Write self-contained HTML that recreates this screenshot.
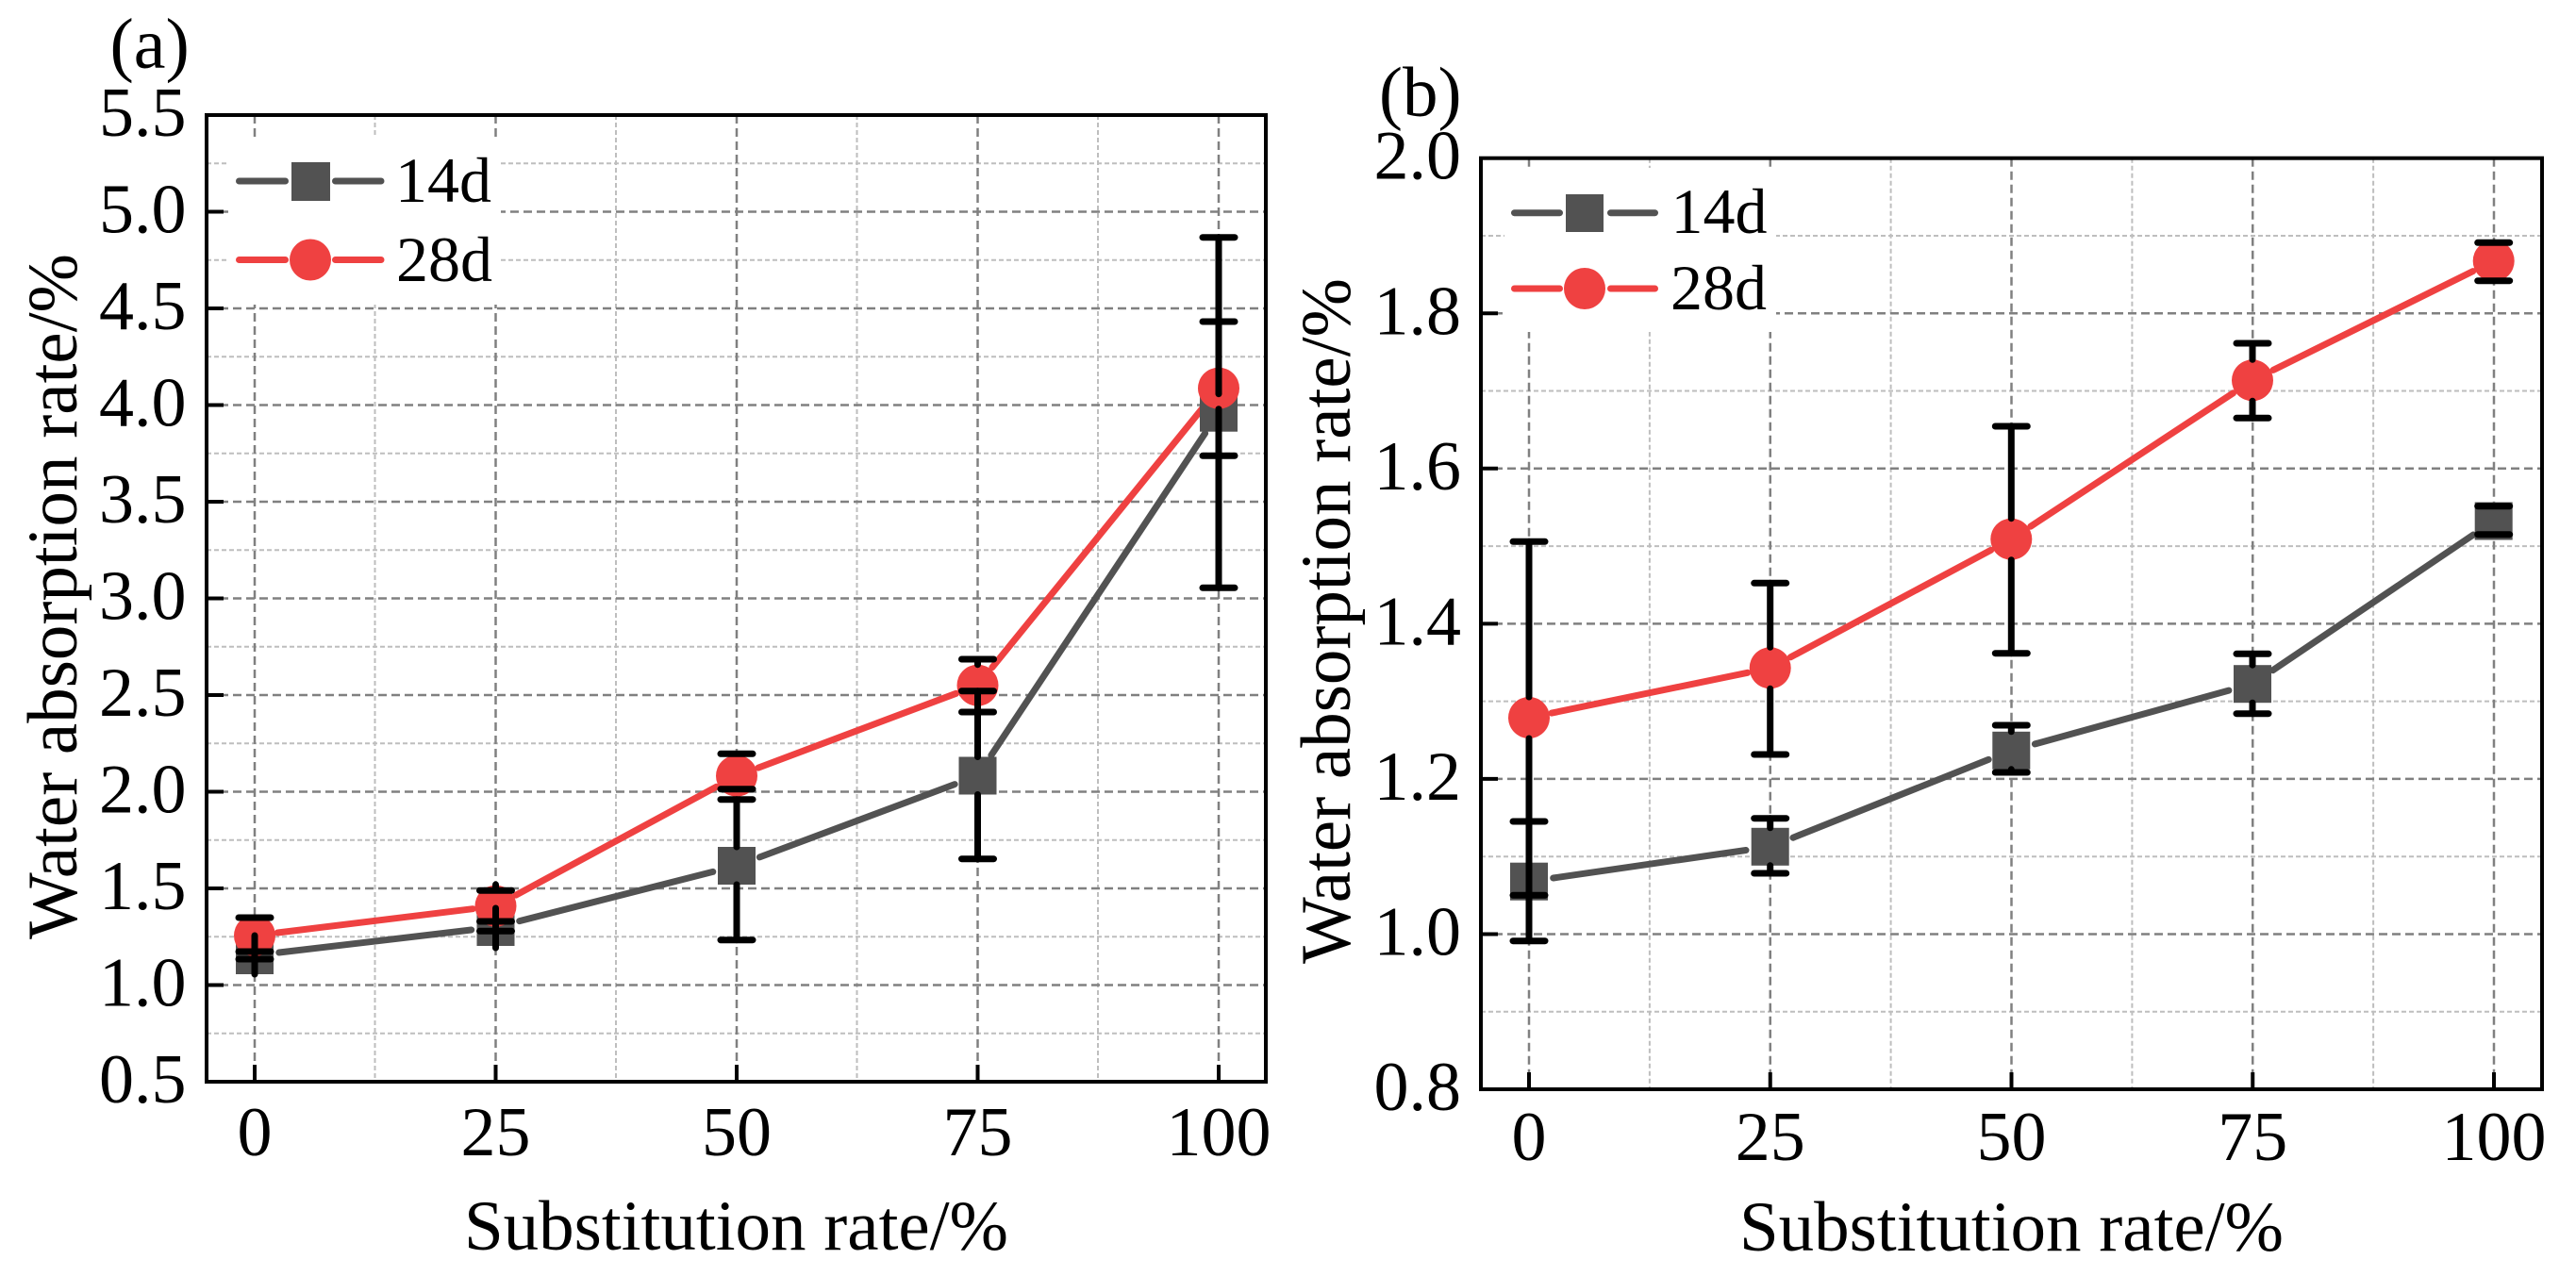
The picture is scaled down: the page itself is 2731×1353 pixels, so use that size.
<!DOCTYPE html>
<html><head><meta charset="utf-8"><style>
html,body{margin:0;padding:0;background:#fff;}
svg{display:block;}
text{font-family:"Liberation Serif","Times New Roman",serif;fill:#000;}
</style></head><body>
<svg width="2731" height="1353" viewBox="0 0 2731 1353" xmlns="http://www.w3.org/2000/svg">
<rect x="0" y="0" width="2731" height="1353" fill="#fff"/>
<g stroke="#bebebe" stroke-width="2" stroke-dasharray="5 3" fill="none">
<line x1="397.5" y1="122" x2="397.5" y2="1147"/><line x1="653" y1="122" x2="653" y2="1147"/>
<line x1="908.5" y1="122" x2="908.5" y2="1147"/><line x1="1164" y1="122" x2="1164" y2="1147"/>
<line x1="219" y1="173.25" x2="1342" y2="173.25"/><line x1="219" y1="275.75" x2="1342" y2="275.75"/>
<line x1="219" y1="378.25" x2="1342" y2="378.25"/><line x1="219" y1="480.75" x2="1342" y2="480.75"/>
<line x1="219" y1="583.25" x2="1342" y2="583.25"/><line x1="219" y1="685.75" x2="1342" y2="685.75"/>
<line x1="219" y1="788.25" x2="1342" y2="788.25"/><line x1="219" y1="890.75" x2="1342" y2="890.75"/>
<line x1="219" y1="993.25" x2="1342" y2="993.25"/><line x1="219" y1="1095.75" x2="1342" y2="1095.75"/>
<line x1="1748.9" y1="167.7" x2="1748.9" y2="1155"/><line x1="2004.6" y1="167.7" x2="2004.6" y2="1155"/>
<line x1="2260.4" y1="167.7" x2="2260.4" y2="1155"/><line x1="2516.1" y1="167.7" x2="2516.1" y2="1155"/>
<line x1="1570" y1="250" x2="2695" y2="250"/><line x1="1570" y1="414.5" x2="2695" y2="414.5"/>
<line x1="1570" y1="579.1" x2="2695" y2="579.1"/><line x1="1570" y1="743.6" x2="2695" y2="743.6"/>
<line x1="1570" y1="908.2" x2="2695" y2="908.2"/><line x1="1570" y1="1072.7" x2="2695" y2="1072.7"/>
</g>
<g stroke="#808080" stroke-width="2.5" stroke-dasharray="9 5" fill="none">
<line x1="270" y1="122" x2="270" y2="1147"/><line x1="525.5" y1="122" x2="525.5" y2="1147"/>
<line x1="781" y1="122" x2="781" y2="1147"/><line x1="1036.5" y1="122" x2="1036.5" y2="1147"/>
<line x1="1292" y1="122" x2="1292" y2="1147"/>
<line x1="219" y1="224.5" x2="1342" y2="224.5"/><line x1="219" y1="327" x2="1342" y2="327"/>
<line x1="219" y1="429.5" x2="1342" y2="429.5"/><line x1="219" y1="532" x2="1342" y2="532"/>
<line x1="219" y1="634.5" x2="1342" y2="634.5"/><line x1="219" y1="737" x2="1342" y2="737"/>
<line x1="219" y1="839.5" x2="1342" y2="839.5"/><line x1="219" y1="942" x2="1342" y2="942"/>
<line x1="219" y1="1044.5" x2="1342" y2="1044.5"/>
<line x1="1621" y1="167.7" x2="1621" y2="1155"/><line x1="1876.75" y1="167.7" x2="1876.75" y2="1155"/>
<line x1="2132.5" y1="167.7" x2="2132.5" y2="1155"/><line x1="2388.25" y1="167.7" x2="2388.25" y2="1155"/>
<line x1="2644" y1="167.7" x2="2644" y2="1155"/>
<line x1="1570" y1="332.25" x2="2695" y2="332.25"/><line x1="1570" y1="496.8" x2="2695" y2="496.8"/>
<line x1="1570" y1="661.35" x2="2695" y2="661.35"/><line x1="1570" y1="825.9" x2="2695" y2="825.9"/>
<line x1="1570" y1="990.45" x2="2695" y2="990.45"/>
</g>
<rect x="243" y="145" width="288" height="178" fill="#fff"/>
<rect x="1595" y="178" width="288" height="174" fill="#fff"/>
<g stroke-width="7" stroke-linecap="round">
<line x1="253.5" y1="192" x2="302.5" y2="192" stroke="#525252"/>
<line x1="355.5" y1="192" x2="404" y2="192" stroke="#525252"/>
<line x1="253.5" y1="275.5" x2="302.5" y2="275.5" stroke="#EF4141"/>
<line x1="355.5" y1="275.5" x2="404" y2="275.5" stroke="#EF4141"/>
<line x1="1605.5" y1="225.7" x2="1653.5" y2="225.7" stroke="#525252"/>
<line x1="1707.5" y1="225.7" x2="1754.5" y2="225.7" stroke="#525252"/>
<line x1="1605.5" y1="306" x2="1653.5" y2="306" stroke="#EF4141"/>
<line x1="1707.5" y1="306" x2="1754.5" y2="306" stroke="#EF4141"/>
</g>
<rect x="309" y="172" width="41" height="41" fill="#525252"/>
<circle cx="329" cy="275.5" r="22" fill="#EF4141"/>
<rect x="1660" y="206" width="40" height="40" fill="#525252"/>
<circle cx="1680" cy="306" r="22" fill="#EF4141"/>
<text x="419" y="214" font-size="68">14d</text>
<text x="420" y="298" font-size="68">28d</text>
<text x="1771.5" y="247" font-size="68">14d</text>
<text x="1771" y="328" font-size="68">28d</text>
<g stroke-width="7" stroke-linecap="round" fill="none">
<g stroke="#525252">
<line x1="295.8" y1="1010" x2="499.7" y2="986"/>
<line x1="550.7" y1="976.6" x2="755.8" y2="924.4"/>
<line x1="805.35" y1="908.9" x2="1012.15" y2="831.6"/>
<line x1="1050.9" y1="800.8" x2="1277.6" y2="459.4"/>
<line x1="1646.7" y1="931" x2="1851" y2="901.5"/>
<line x1="1900.9" y1="888.2" x2="2108.2" y2="805.4"/>
<line x1="2157.4" y1="788.9" x2="2362.9" y2="732.1"/>
<line x1="2409.6" y1="710.7" x2="2622.2" y2="567"/>
</g>
<g stroke="#EF4141">
<line x1="294.3" y1="989" x2="501.2" y2="963.7"/>
<line x1="547.1" y1="949.1" x2="759.4" y2="834.3"/>
<line x1="803.9" y1="814.1" x2="1013.6" y2="735.3"/>
<line x1="1051.9" y1="707.7" x2="1276.6" y2="430.7"/>
<line x1="1645" y1="756.1" x2="1852.7" y2="713.3"/>
<line x1="1898.3" y1="696.8" x2="2110.7" y2="583.3"/>
<line x1="2152.8" y1="558.2" x2="2367.5" y2="416.8"/>
<line x1="2410" y1="392.4" x2="2621.7" y2="287.6"/>
</g>
</g>
<g fill="#525252">
<rect x="250" y="993" width="40" height="40"/>
<rect x="505.5" y="963" width="40" height="40"/>
<rect x="761" y="898" width="40" height="40"/>
<rect x="1016.5" y="802.5" width="40" height="40"/>
<rect x="1272" y="417.7" width="40" height="40"/>
<rect x="1601" y="914.7" width="40" height="40"/>
<rect x="1856.7" y="877.8" width="40" height="40"/>
<rect x="2112.3" y="775.8" width="40" height="40"/>
<rect x="2368" y="705.2" width="40" height="40"/>
<rect x="2623.7" y="532.5" width="40" height="40"/>
</g>
<g fill="#EF4141">
<circle cx="270" cy="992" r="22"/>
<circle cx="525.5" cy="960.7" r="22"/>
<circle cx="781" cy="822.7" r="22"/>
<circle cx="1036.5" cy="726.7" r="22"/>
<circle cx="1292" cy="411.7" r="22"/>
<circle cx="1621" cy="761" r="22"/>
<circle cx="1876.7" cy="708.3" r="22"/>
<circle cx="2132.3" cy="571.7" r="22"/>
<circle cx="2388" cy="403.3" r="22"/>
<circle cx="2643.7" cy="276.7" r="22"/>
</g>
<g stroke="#000" stroke-width="7" stroke-linecap="round" fill="none">
<line x1="270" y1="992" x2="270" y2="1033"/>
<line x1="253" y1="973" x2="287" y2="973"/>
<line x1="253" y1="1009" x2="287" y2="1009"/>
<line x1="253" y1="1017" x2="287" y2="1017"/>
<line x1="525.5" y1="938" x2="525.5" y2="944"/>
<line x1="525.5" y1="963" x2="525.5" y2="1005"/>
<line x1="508.5" y1="944.3" x2="542.5" y2="944.3"/>
<line x1="508.5" y1="977" x2="542.5" y2="977"/>
<line x1="508.5" y1="987.3" x2="542.5" y2="987.3"/>
<line x1="781" y1="847.7" x2="781" y2="898"/>
<line x1="781" y1="938" x2="781" y2="996.7"/>
<line x1="764" y1="799.3" x2="798" y2="799.3"/>
<line x1="764" y1="836.7" x2="798" y2="836.7"/>
<line x1="764" y1="847.7" x2="798" y2="847.7"/>
<line x1="764" y1="996.7" x2="798" y2="996.7"/>
<line x1="1036.5" y1="699" x2="1036.5" y2="704.7"/>
<line x1="1036.5" y1="732.7" x2="1036.5" y2="802.5"/>
<line x1="1036.5" y1="842.5" x2="1036.5" y2="910.7"/>
<line x1="1019.5" y1="699" x2="1053.5" y2="699"/>
<line x1="1019.5" y1="732.7" x2="1053.5" y2="732.7"/>
<line x1="1019.5" y1="755" x2="1053.5" y2="755"/>
<line x1="1019.5" y1="910.7" x2="1053.5" y2="910.7"/>
<line x1="1292" y1="251.7" x2="1292" y2="417.7"/>
<line x1="1292" y1="433.7" x2="1292" y2="623.3"/>
<line x1="1275" y1="251.7" x2="1309" y2="251.7"/>
<line x1="1275" y1="341" x2="1309" y2="341"/>
<line x1="1275" y1="483.3" x2="1309" y2="483.3"/>
<line x1="1275" y1="623.3" x2="1309" y2="623.3"/>
<line x1="1621" y1="574.3" x2="1621" y2="739"/>
<line x1="1621" y1="783" x2="1621" y2="997.7"/>
<line x1="1604" y1="574.3" x2="1638" y2="574.3"/>
<line x1="1604" y1="871" x2="1638" y2="871"/>
<line x1="1604" y1="949.3" x2="1638" y2="949.3"/>
<line x1="1604" y1="997.7" x2="1638" y2="997.7"/>
<line x1="1876.7" y1="618.3" x2="1876.7" y2="686.3"/>
<line x1="1876.7" y1="730.3" x2="1876.7" y2="800"/>
<line x1="1876.7" y1="867.7" x2="1876.7" y2="877.8"/>
<line x1="1876.7" y1="917.8" x2="1876.7" y2="926"/>
<line x1="1859.7" y1="618.3" x2="1893.7" y2="618.3"/>
<line x1="1859.7" y1="800" x2="1893.7" y2="800"/>
<line x1="1859.7" y1="867.7" x2="1893.7" y2="867.7"/>
<line x1="1859.7" y1="926" x2="1893.7" y2="926"/>
<line x1="2132.3" y1="452" x2="2132.3" y2="549.7"/>
<line x1="2132.3" y1="593.7" x2="2132.3" y2="692.7"/>
<line x1="2132.3" y1="769" x2="2132.3" y2="775.8"/>
<line x1="2132.3" y1="815.8" x2="2132.3" y2="819"/>
<line x1="2115.3" y1="452" x2="2149.3" y2="452"/>
<line x1="2115.3" y1="692.7" x2="2149.3" y2="692.7"/>
<line x1="2115.3" y1="769" x2="2149.3" y2="769"/>
<line x1="2115.3" y1="819" x2="2149.3" y2="819"/>
<line x1="2388" y1="364" x2="2388" y2="381.3"/>
<line x1="2388" y1="425.3" x2="2388" y2="443.3"/>
<line x1="2388" y1="693.3" x2="2388" y2="705.2"/>
<line x1="2388" y1="745.2" x2="2388" y2="756.7"/>
<line x1="2371" y1="364" x2="2405" y2="364"/>
<line x1="2371" y1="443.3" x2="2405" y2="443.3"/>
<line x1="2371" y1="693.3" x2="2405" y2="693.3"/>
<line x1="2371" y1="756.7" x2="2405" y2="756.7"/>
<line x1="2626.7" y1="257.3" x2="2660.7" y2="257.3"/>
<line x1="2626.7" y1="297.7" x2="2660.7" y2="297.7"/>
<line x1="2626.7" y1="536.7" x2="2660.7" y2="536.7"/>
<line x1="2626.7" y1="566.7" x2="2660.7" y2="566.7"/>
</g>
<rect x="219" y="122" width="1123" height="1025" fill="none" stroke="#000" stroke-width="4"/>
<rect x="1570" y="167.7" width="1125" height="987.3" fill="none" stroke="#000" stroke-width="4"/>
<g stroke="#000" stroke-width="4">
<line x1="219" y1="224.5" x2="237" y2="224.5"/><line x1="219" y1="327" x2="237" y2="327"/>
<line x1="219" y1="429.5" x2="237" y2="429.5"/><line x1="219" y1="532" x2="237" y2="532"/>
<line x1="219" y1="634.5" x2="237" y2="634.5"/><line x1="219" y1="737" x2="237" y2="737"/>
<line x1="219" y1="839.5" x2="237" y2="839.5"/><line x1="219" y1="942" x2="237" y2="942"/>
<line x1="219" y1="1044.5" x2="237" y2="1044.5"/>
<line x1="270" y1="1147" x2="270" y2="1129"/><line x1="525.5" y1="1147" x2="525.5" y2="1129"/>
<line x1="781" y1="1147" x2="781" y2="1129"/><line x1="1036.5" y1="1147" x2="1036.5" y2="1129"/>
<line x1="1292" y1="1147" x2="1292" y2="1129"/>
<line x1="1570" y1="332.25" x2="1588" y2="332.25"/><line x1="1570" y1="496.8" x2="1588" y2="496.8"/>
<line x1="1570" y1="661.35" x2="1588" y2="661.35"/><line x1="1570" y1="825.9" x2="1588" y2="825.9"/>
<line x1="1570" y1="990.45" x2="1588" y2="990.45"/>
<line x1="1621" y1="1155" x2="1621" y2="1137"/><line x1="1876.75" y1="1155" x2="1876.75" y2="1137"/>
<line x1="2132.5" y1="1155" x2="2132.5" y2="1137"/><line x1="2388.25" y1="1155" x2="2388.25" y2="1137"/>
<line x1="2644" y1="1155" x2="2644" y2="1137"/>
</g>
<g font-size="74" text-anchor="end">
<text x="197.5" y="144">5.5</text><text x="197.5" y="246.5">5.0</text>
<text x="197.5" y="349">4.5</text><text x="197.5" y="451.5">4.0</text>
<text x="197.5" y="554">3.5</text><text x="197.5" y="656.5">3.0</text>
<text x="197.5" y="759">2.5</text><text x="197.5" y="861.5">2.0</text>
<text x="197.5" y="964">1.5</text><text x="197.5" y="1066.5">1.0</text>
<text x="197.5" y="1169">0.5</text>
<text x="1549" y="189.7">2.0</text><text x="1549" y="354.25">1.8</text>
<text x="1549" y="518.8">1.6</text><text x="1549" y="683.35">1.4</text>
<text x="1549" y="847.9">1.2</text><text x="1549" y="1012.45">1.0</text>
<text x="1549" y="1177">0.8</text>
</g>
<g font-size="74" text-anchor="middle">
<text x="270" y="1225">0</text><text x="525.5" y="1225">25</text>
<text x="781" y="1225">50</text><text x="1036.5" y="1225">75</text>
<text x="1292" y="1225">100</text>
<text x="1621" y="1230">0</text><text x="1876.75" y="1230">25</text>
<text x="2132.5" y="1230">50</text><text x="2388.25" y="1230">75</text>
<text x="2644" y="1230">100</text>
</g>
<g font-size="75" text-anchor="middle">
<text x="780.5" y="1325">Substitution rate/%</text>
<text x="2132.5" y="1326">Substitution rate/%</text>
<text transform="translate(81,632.5) rotate(-90)">Water absorption rate/%</text>
<text transform="translate(1431,658.5) rotate(-90)">Water absorption rate/%</text>
</g>
<text x="116.5" y="72" font-size="76">(a)</text>
<text x="1462" y="123" font-size="75">(b)</text>
</svg>
</body></html>
